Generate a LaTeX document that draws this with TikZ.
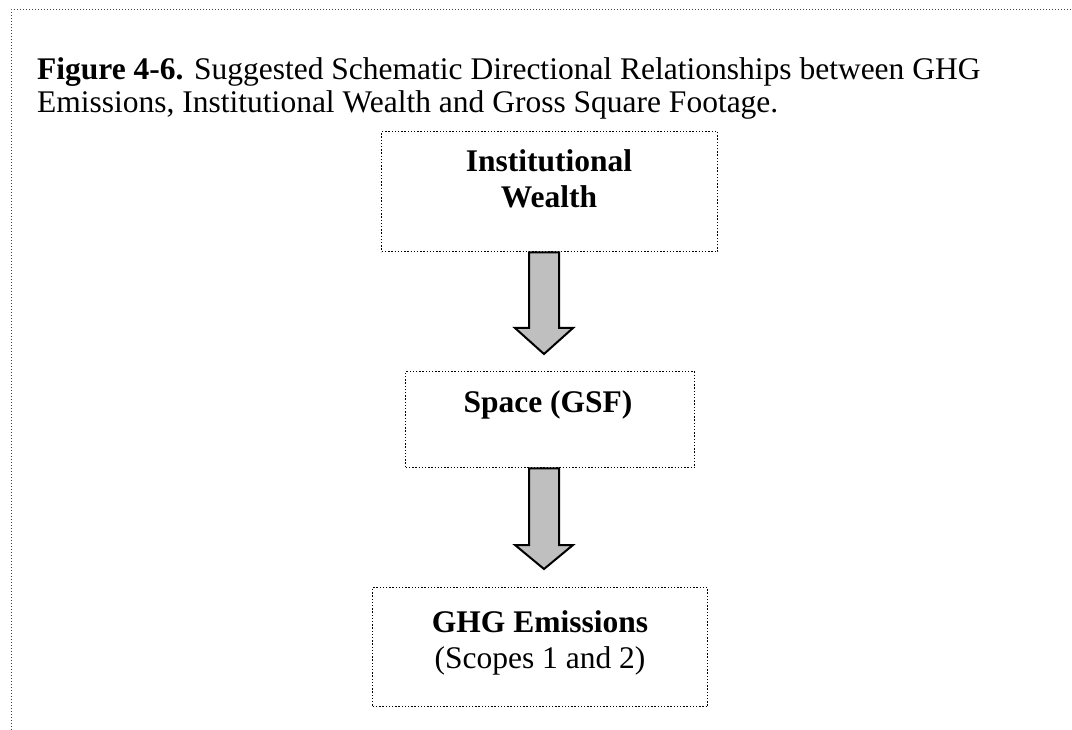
\documentclass[tikz,border=0pt]{standalone}
\usepackage{fontspec}
\setmainfont{Liberation Serif}
\usetikzlibrary{calc}
\begin{document}
\begin{tikzpicture}[x=1pt,y=-1pt,
  frame/.style={draw=black!75,line width=1pt,dash pattern=on 1pt off 2pt},
  boxline/.style={draw=black,line width=1.4pt,dash pattern=on 1.4pt off 1.8pt,
    rectangle,inner sep=0pt,anchor=north west},
  label/.style={font=\fontsize{31.5}{36}\selectfont,inner sep=0pt,anchor=base,align=center},
  blockarrow/.style={draw=black,fill=black!25,line width=2pt,line join=miter}]
\useasboundingbox (0,0) rectangle (1072,730);
% page frame: top and left edges only
\coordinate (fa) at (11,730);
\coordinate (fb) at (11,10);
\coordinate (fc) at (1072,10);
\draw[frame] (fa) -- (fb) -- (fc);
% caption (base anchor sits on the last line)
\node[anchor=base west,inner sep=0pt,align=left,font=\fontsize{31.5}{33}\selectfont] (cap) at (37,113)
  {\textbf{Figure 4-6.} Suggested Schematic Directional Relationships between GHG\\
   Emissions, Institutional Wealth and Gross Square Footage.};
% boxes
\node[boxline,minimum width=336pt,minimum height=120pt] (wealth) at (381,131) {};
\node[boxline,minimum width=289pt,minimum height=96pt] (space) at (405,371) {};
\node[boxline,minimum width=335pt,minimum height=119pt] (ghg) at (372,587) {};
% box texts
\node[label] (wealthtxt) at (549,172) {\textbf{Institutional}};
\node[label] (wealthtxt2) at (549,208) {\textbf{Wealth}};
\node[label] (spacetxt) at (548,412) {\textbf{Space (GSF)}};
\node[label] (ghgtxt) at (540,632) {\textbf{GHG Emissions}};
\node[label] (ghgtxt2) at (540,668) {(Scopes 1 and 2)};
% block arrows between the boxes
\coordinate (a1t) at (wealth.south -| 544,0);
\coordinate (a1h) at (544,328);
\coordinate (a1p) at (544,354);
\coordinate (a2t) at (space.south -| 544,0);
\coordinate (a2h) at (544,545);
\coordinate (a2p) at (544,569);
\foreach \t/\h/\p in {a1t/a1h/a1p, a2t/a2h/a2p}{
  \draw[blockarrow] ($(\t)+(-15,0)$) -- ($(\h)+(-15,0)$) -- ($(\h)+(-29,0)$) -- (\p)
    -- ($(\h)+(29,0)$) -- ($(\h)+(15,0)$) -- ($(\t)+(15,0)$) -- cycle;
}
\end{tikzpicture}
\end{document}
